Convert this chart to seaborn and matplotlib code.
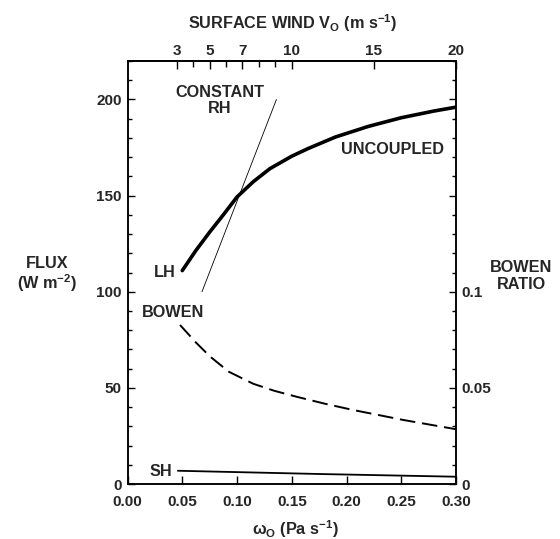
import numpy as np
import pandas as pd
import matplotlib
matplotlib.use("Agg")
import matplotlib.pyplot as plt
import seaborn as sns
from matplotlib.ticker import MultipleLocator, FixedLocator

# ---- data ----
omega_lh = [0.05, 0.0625, 0.075, 0.0875, 0.10, 0.115, 0.13, 0.15, 0.165,
            0.19, 0.22, 0.25, 0.28, 0.30]
lh_flux = [111, 121.5, 131, 140, 149.3, 157.3, 164, 170.5, 174.5,
           180.5, 186, 190.5, 194, 196]

omega_rh = [0.068, 0.136]
rh_flux = [100, 200]

omega_bowen = [0.048, 0.0625, 0.075, 0.0925, 0.115, 0.134, 0.155, 0.18,
               0.206, 0.23, 0.252, 0.275, 0.30]
bowen_ratio = [0.0827, 0.0736, 0.0665, 0.0584, 0.0521, 0.0485, 0.0453,
               0.0418, 0.0385, 0.0358, 0.0333, 0.031, 0.0285]

omega_sh = [0.046, 0.176, 0.30]
sh_flux = [6.9, 5.2, 3.8]

wind_major = [3, 5, 7, 10, 15, 20]
wind_minor = [4, 6, 8, 9]
omega_per_wind = 0.015

flux_ticks = [0, 50, 100, 150, 200]
omega_ticks = [0.00, 0.05, 0.10, 0.15, 0.20, 0.25, 0.30]
bowen_ticks = [0, 0.05, 0.1, 0.15, 0.2]
bowen_tick_labels = ["0", "0.05", "0.1", "", ""]

# ---- style ----
sns.set_style("ticks")
plt.rcParams["font.family"] = ["Liberation Sans", "DejaVu Sans"]
plt.rcParams["font.weight"] = "bold"
plt.rcParams["mathtext.fontset"] = "custom"
plt.rcParams["mathtext.rm"] = "Liberation Sans:bold"
plt.rcParams["mathtext.it"] = "Liberation Sans:bold"
plt.rcParams["mathtext.bf"] = "Liberation Sans:bold"
FS = 11      # tick labels
FT = 11.7    # titles and annotations

fig = plt.figure(figsize=(5.6, 5.39), dpi=100)
ax = fig.add_axes([0.2277, 0.102, 0.5866, 0.7848])

df_lh = pd.DataFrame({"omega": omega_lh, "flux": lh_flux})
df_rh = pd.DataFrame({"omega": omega_rh, "flux": rh_flux})
df_sh = pd.DataFrame({"omega": omega_sh, "flux": sh_flux})
df_b = pd.DataFrame({"omega": omega_bowen, "ratio": bowen_ratio})

sns.lineplot(data=df_lh, x="omega", y="flux", ax=ax, color="black", lw=2.6)
sns.lineplot(data=df_rh, x="omega", y="flux", ax=ax, color="black", lw=0.6)
sns.lineplot(data=df_sh, x="omega", y="flux", ax=ax, color="black", lw=1.3)

ax.set_xlim(0, 0.30)
ax.set_ylim(0, 220)
ax.set_xlabel("")
ax.set_ylabel("")
ax.xaxis.set_major_locator(FixedLocator(omega_ticks))
ax.set_xticklabels([f"{v:.2f}" for v in omega_ticks], fontsize=FS)
ax.yaxis.set_major_locator(FixedLocator(flux_ticks))
ax.set_yticklabels([str(v) for v in flux_ticks], fontsize=FS)
ax.yaxis.set_minor_locator(MultipleLocator(10))
ax.tick_params(axis="both", which="both", direction="in", width=1.0, color="black")
ax.tick_params(axis="y", which="major", length=5, pad=4)
ax.tick_params(axis="y", which="minor", length=3)
ax.tick_params(axis="x", which="major", length=6, pad=8)
for s in ax.spines.values():
    s.set_visible(True)
    s.set_linewidth(1.1)
    s.set_color("black")

# right axis: Bowen ratio
ax2 = ax.twinx()
sns.lineplot(data=df_b, x="omega", y="ratio", ax=ax2, color="black", lw=1.4)
ax2.lines[-1].set_dashes([8, 3.5])
ax2.set_ylim(0, 0.22)
ax2.set_ylabel("")
ax2.yaxis.set_major_locator(FixedLocator(bowen_ticks))
ax2.set_yticklabels(bowen_tick_labels, fontsize=FS)
ax2.yaxis.set_minor_locator(MultipleLocator(0.01))
ax2.tick_params(axis="y", which="both", direction="in", color="black", width=1.0)
ax2.tick_params(axis="y", which="major", length=5, pad=4)
ax2.tick_params(axis="y", which="minor", length=3)
for s in ax2.spines.values():
    s.set_linewidth(1.1)
    s.set_color("black")

# top axis: surface wind
top = ax.secondary_xaxis("top", functions=(lambda w: w / omega_per_wind,
                                           lambda v: v * omega_per_wind))
top.xaxis.set_major_locator(FixedLocator(wind_major))
top.xaxis.set_minor_locator(FixedLocator(wind_minor))
top.set_xticklabels([str(v) for v in wind_major], fontsize=FS)
top.tick_params(axis="x", which="both", direction="in", color="black", width=1.0)
top.tick_params(axis="x", which="major", length=6, pad=2)
top.tick_params(axis="x", which="minor", length=4)
top.spines["top"].set_linewidth(1.1)

# axis titles
fig.text(293 / 560, 1 - 23 / 539, r"SURFACE WIND V$_\mathrm{O}$ (m s$^{-1}$)",
         ha="center", va="center", fontsize=FT)
fig.text(295 / 560, 1 - 529 / 539, r"ω$_\mathrm{O}$ (Pa s$^{-1}$)",
         ha="center", va="center", fontsize=FT)
fig.text(47 / 560, 1 - 275 / 539, "FLUX\n(W m$^{-2}$)", ha="center",
         va="center", fontsize=FT, linespacing=1.1)
fig.text(521 / 560, 1 - 276 / 539, "BOWEN\nRATIO", ha="center",
         va="center", fontsize=FT, linespacing=1.1)

# curve annotations
ax.text(0.0845, 199.5, "CONSTANT\nRH", ha="center", va="center", fontsize=FT,
        linespacing=1.1)
ax.text(0.242, 174, "UNCOUPLED", ha="center", va="center", fontsize=FT)
ax.text(0.044, 110, "LH", ha="right", va="center", fontsize=FT)
ax.text(0.042, 89, "BOWEN", ha="center", va="center", fontsize=FT)
ax.text(0.041, 6.5, "SH", ha="right", va="center", fontsize=FT)

fig.savefig("out.png", dpi=100)
